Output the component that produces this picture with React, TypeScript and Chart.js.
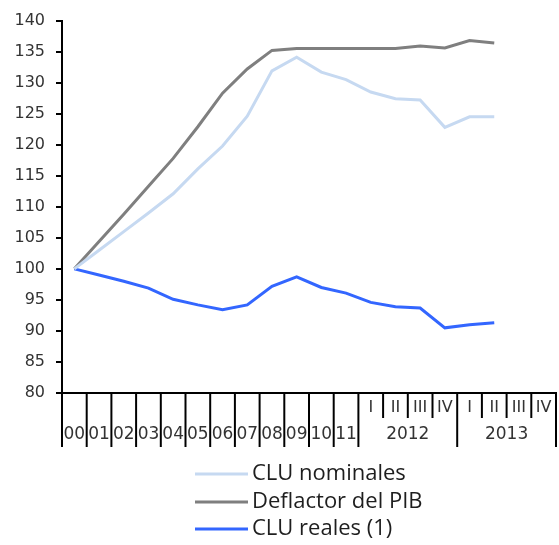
import React, { useEffect, useRef } from 'react';
import { Chart, registerables } from 'chart.js';
Chart.register(...registerables);

const categories = ['00','01','02','03','04','05','06','07','08','09','10','11','2012-I','2012-II','2012-III','2012-IV','2013-I','2013-II','2013-III','2013-IV'];
const yearLabels = ['00','01','02','03','04','05','06','07','08','09','10','11'];
const quarterLabels = ['I','II','III','IV'];
const quarterYears = ['2012','2013'];
const cluNominales = [100,103,106,109,112.1,116.1,119.8,124.6,131.9,134.1,131.7,130.5,128.5,127.4,127.2,122.8,124.5,124.5];
const deflactor = [100,104.4,108.8,113.3,117.8,122.9,128.3,132.2,135.2,135.5,135.5,135.5,135.5,135.5,135.9,135.6,136.8,136.4];
const cluReales = [100,99.0,98.0,96.9,95.1,94.2,93.4,94.2,97.2,98.7,97.0,96.1,94.6,93.9,93.7,90.5,91.0,91.3];
const seriesNames = ['CLU nominales','Deflactor del PIB','CLU reales (1)'];
const seriesColors = ['#c6d9f1','#7f7f7f','#3366ff'];

const axisPlugin = {
  id: 'customAxis',
  afterDraw(chart: any) {
    const ctx = chart.ctx;
    const x = chart.scales.x;
    const area = chart.chartArea;
    const c0 = x.getPixelForValue(0);
    const half = (x.getPixelForValue(1) - c0) / 2;
    const bottom = area.bottom;
    ctx.save();
    ctx.strokeStyle = '#000';
    ctx.lineWidth = 2;
    ctx.beginPath();
    ctx.moveTo(area.left - 1, bottom);
    ctx.lineTo(area.right + 1, bottom);
    ctx.stroke();
    for (let i = 0; i <= categories.length; i++) {
      const px = c0 - half + i * 2 * half;
      const long = i <= 12 || i === 16 || i === 20;
      ctx.beginPath();
      ctx.moveTo(px, bottom);
      ctx.lineTo(px, long ? bottom + 54 : bottom + 25);
      ctx.stroke();
    }
    ctx.fillStyle = '#333';
    ctx.textAlign = 'center';
    ctx.textBaseline = 'middle';
    ctx.font = '17px "DejaVu Sans"';
    yearLabels.forEach((l, i) => {
      ctx.fillText(l, x.getPixelForValue(i), bottom + 42);
    });
    ctx.font = '16px "DejaVu Sans"';
    for (let i = 12; i < categories.length; i++) {
      ctx.fillText(quarterLabels[(i - 12) % 4], x.getPixelForValue(i), bottom + 15);
    }
    ctx.font = '17px "DejaVu Sans"';
    quarterYears.forEach((l, k) => {
      const a = x.getPixelForValue(12 + k * 4);
      const b = x.getPixelForValue(15 + k * 4);
      ctx.fillText(l, (a + b) / 2, bottom + 42);
    });
    // legend
    ctx.textAlign = 'left';
    ctx.font = '22px "Open Sans"';
    const rows = [474, 502, 529];
    seriesNames.forEach((n, k) => {
      ctx.strokeStyle = seriesColors[k];
      ctx.lineWidth = 3;
      ctx.beginPath();
      ctx.moveTo(195, rows[k]);
      ctx.lineTo(248, rows[k]);
      ctx.stroke();
      ctx.fillStyle = '#1e1e1e';
      ctx.fillText(n, 252, rows[k]);
    });
    ctx.restore();
  },
};

export default function App() {
  const ref = useRef<HTMLCanvasElement>(null);
  useEffect(() => {
    if (!ref.current) return;
    const chart = new Chart(ref.current, {
      type: 'line',
      data: {
        labels: categories,
        datasets: [
          { label: seriesNames[0], data: cluNominales, borderColor: seriesColors[0], borderWidth: 3, pointRadius: 0, fill: false, tension: 0 },
          { label: seriesNames[1], data: deflactor, borderColor: seriesColors[1], borderWidth: 3, pointRadius: 0, fill: false, tension: 0 },
          { label: seriesNames[2], data: cluReales, borderColor: seriesColors[2], borderWidth: 3, pointRadius: 0, fill: false, tension: 0 },
        ],
      },
      options: {
        responsive: false,
        animation: false,
        layout: { padding: { left: 0, top: 17, right: 3, bottom: 0 } },
        plugins: { legend: { display: false }, tooltip: { enabled: false } },
        scales: {
          x: {
            type: 'category',
            offset: true,
            ticks: { display: false },
            grid: { display: false },
            border: { display: false },
            afterFit: (s: any) => { s.height = 152; },
          },
          y: {
            min: 80,
            max: 140,
            ticks: { stepSize: 5, padding: 11, color: '#333', font: { family: 'DejaVu Sans', size: 16 } },
            grid: { drawOnChartArea: false, drawTicks: true, tickLength: 6, color: '#000', lineWidth: 2 },
            border: { color: '#000', width: 2 },
            afterFit: (s: any) => { s.width = 62; },
          },
        },
      },
      plugins: [axisPlugin],
    });
    return () => chart.destroy();
  }, []);
  return (
    <div style={{ position: 'fixed', left: 0, top: 0, width: 559, height: 545, background: '#fff' }}>
      <canvas ref={ref} width={559} height={545} style={{ width: 559, height: 545, display: 'block' }} />
    </div>
  );
}
